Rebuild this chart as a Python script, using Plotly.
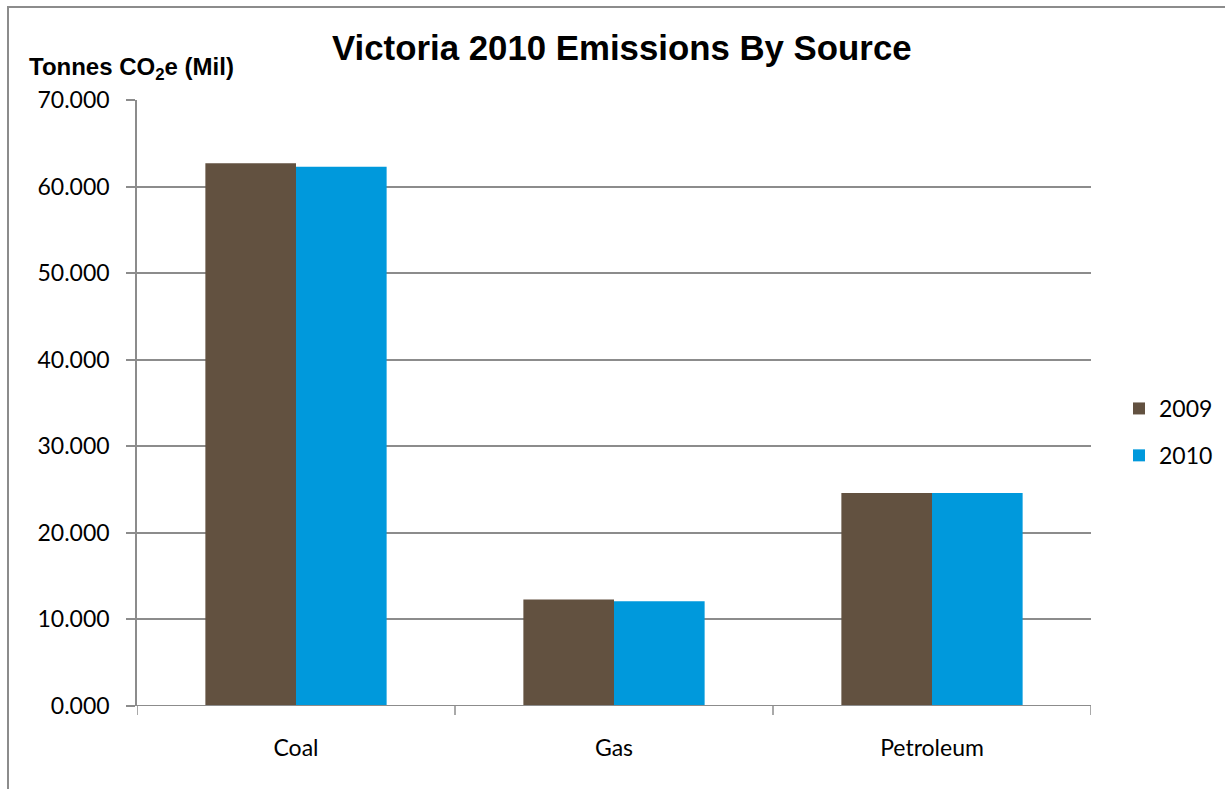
import plotly.graph_objects as go

# Emissions by source, million tonnes CO2e
categories = ["Coal", "Gas", "Petroleum"]
values_2009 = [62.7, 12.3, 24.6]
values_2010 = [62.3, 12.1, 24.6]
y_ticks = [0, 10, 20, 30, 40, 50, 60, 70]
y_tick_labels = ["0.000", "10.000", "20.000", "30.000", "40.000", "50.000", "60.000", "70.000"]

BROWN = "#625140"
BLUE = "#0099DC"
GRID = "#8C8C8C"
BODY_FONT = "Lato"

fig = go.Figure()
fig.add_trace(go.Bar(name="2009", x=categories, y=values_2009,
                     marker=dict(color=BROWN, line=dict(width=0)), legendgroup="a"))
fig.add_trace(go.Bar(name="2010", x=categories, y=values_2010,
                     marker=dict(color=BLUE, line=dict(width=0)), legendgroup="b"))

L, R, T, B = 137, 134, 100, 83
W, H = 1225, 789
pw, ph = W - L - R, H - T - B

def px_x(x):
    return (x - L) / pw

def px_y(y):
    return (H - B - y) / ph

fig.update_layout(
    width=W, height=H,
    margin=dict(l=L, r=R, t=T, b=B, autoexpand=False),
    paper_bgcolor="white", plot_bgcolor="white",
    barmode="group", bargap=0.43, bargroupgap=0,
    font=dict(family=BODY_FONT, size=23, color="black"),
    showlegend=True,
    legend=dict(x=px_x(1119), y=px_y(432), xanchor="left", yanchor="middle",
                font=dict(family=BODY_FONT, size=23), traceorder="grouped",
                tracegroupgap=14, itemwidth=30, bgcolor="rgba(0,0,0,0)"),
    xaxis=dict(showgrid=False, showline=False, ticks="", tickfont=dict(size=23),
               ticklabelstandoff=26, zeroline=False),
    yaxis=dict(range=[0, 70], tickvals=y_ticks, ticktext=y_tick_labels,
               showgrid=True, gridcolor=GRID, gridwidth=1.5,
               showline=True, linecolor=GRID, linewidth=1.5,
               ticks="outside", ticklen=9, tickcolor=GRID, tickwidth=1.5,
               ticklabelstandoff=12,
               tickfont=dict(size=23), zeroline=False),
    annotations=[
        dict(text="<b>Victoria 2010 Emissions By Source</b>", xref="paper", yref="paper",
             x=px_x(622), y=px_y(47), xanchor="center", yanchor="middle", showarrow=False,
             font=dict(family="Liberation Sans", size=34.8, color="black")),
        dict(text="<b>Tonnes CO<sub>2</sub>e (Mil)</b>", xref="paper", yref="paper",
             x=px_x(27), y=px_y(68), xanchor="left", yanchor="middle", showarrow=False,
             font=dict(family="Liberation Sans", size=24, color="black")),
    ],
)

shapes = []
# category-boundary tick marks along the baseline
for i in range(len(categories) + 1):
    shapes.append(dict(type="line", xref="x", yref="paper", x0=i - 0.5, x1=i - 0.5,
                       y0=0, y1=px_y(H - B + 9), line=dict(color=GRID, width=1.5)))
shapes.append(dict(type="line", xref="paper", yref="y", x0=0, x1=1, y0=0, y1=0,
                   line=dict(color=GRID, width=2)))
# outer chart border
shapes.append(dict(type="rect", xref="paper", yref="paper", x0=px_x(8), x1=px_x(1240),
                   y0=px_y(800), y1=px_y(7), line=dict(color=GRID, width=2),
                   fillcolor="rgba(0,0,0,0)", layer="below"))
fig.update_layout(shapes=shapes)
fig.update_xaxes(range=[-0.5, 2.5])

fig.write_html("out.html")
